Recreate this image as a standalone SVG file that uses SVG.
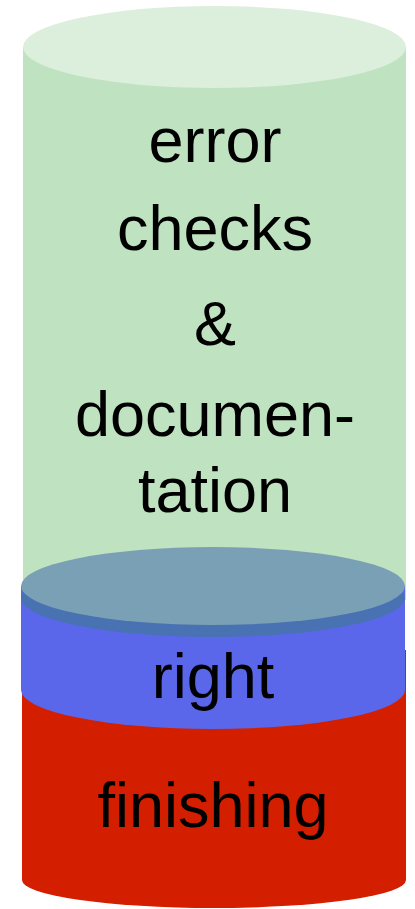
<svg xmlns="http://www.w3.org/2000/svg" width="415" height="909" viewBox="0 0 415 909">
<style>
.t{font-family:"Liberation Sans",Arial,sans-serif;font-size:63px;fill:#000;text-anchor:middle}
</style>
<rect width="415" height="909" fill="#fff"/>
<g id="finishing">
<path d="M22,650 H406 V880 A192,28 0 0 1 22,880 Z" fill="#D41E00"/>
<text class="t" x="213" y="827">finishing</text>
</g>
<g id="error-checks">
<path d="M23,47 H406 V600 H23 Z" fill="#BFE2C0"/>
<ellipse cx="214.5" cy="47" rx="191.5" ry="41" fill="#DCEEDC"/>
<text class="t" x="215" y="162">error</text>
<text class="t" x="215" y="250">checks</text>
<text class="t" x="215" y="345">&amp;</text>
<text class="t" x="215" y="436">documen-</text>
<text class="t" x="215" y="512">tation</text>
</g>
<g id="right">
<path d="M21,586 H405 V690 A192,39 0 0 1 21,690 Z" fill="#5B67EB"/>
<ellipse cx="213" cy="598" rx="192" ry="39" fill="#4872B2"/>
<ellipse cx="213" cy="586" rx="192" ry="39" fill="#7AA0B5"/>
<text class="t" x="213" y="698">right</text>
</g>
<g id="connectors"/>
</svg>
